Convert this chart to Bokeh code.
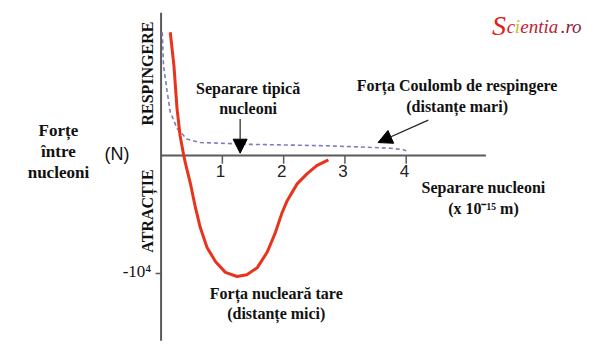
from bokeh.plotting import figure
from bokeh.models import Range1d, Arrow, NormalHead
from bokeh.embed import file_html
from bokeh.resources import INLINE
from bokeh.core.properties import value

# Data (x in 1e-15 m, force in units of 1e4 N)
strong_x = [0.15, 0.21, 0.26, 0.31, 0.37, 0.40, 0.48, 0.56, 0.64, 0.75, 0.89, 1.05, 1.24, 1.40, 1.57, 1.73, 1.86, 1.97, 2.06, 2.22, 2.38, 2.54, 2.73]
strong_y = [1.045, 0.76, 0.40, 0.17, 0.0, -0.07, -0.24, -0.44, -0.61, -0.78, -0.90, -0.99, -1.025, -1.01, -0.95, -0.82, -0.66, -0.49, -0.38, -0.24, -0.155, -0.085, -0.036]

coul_x = [0.02, 0.04, 0.10, 0.15, 0.26, 0.42, 0.64, 0.97, 1.46, 2.0, 2.76, 3.3, 3.74, 3.95, 4.0]
coul_y = [1.045, 0.76, 0.54, 0.37, 0.23, 0.14, 0.11, 0.105, 0.095, 0.09, 0.082, 0.072, 0.062, 0.05, 0.04]

tick_x = [1, 2, 3, 4]
tick_labels = ["1", "2", "3", "4"]
y_tick = [-1]
y_tick_labels = ["-10⁴"]

p = figure(width=600, height=352, output_backend="svg", toolbar_location=None,
           x_range=Range1d(-2.62, 7.17), y_range=Range1d(-1.669, 1.314),
           min_border=0, min_border_left=0, min_border_right=0,
           min_border_top=0, min_border_bottom=0)
p.axis.visible = False
p.grid.visible = False
p.outline_line_color = None
p.background_fill_color = "white"
p.border_fill_color = "white"

axis_col = "#5a5a5a"
# axes
p.line([0, 5.3], [0, 0], line_color=axis_col, line_width=2)
p.line([0, 0], [-1.57, 1.21], line_color=axis_col, line_width=2)
# ticks
p.segment(x0=tick_x, y0=[0]*4, x1=tick_x, y1=[-0.07]*4, line_color=axis_col, line_width=1.5)
p.segment(x0=[-0.09], y0=y_tick, x1=[0], y1=y_tick, line_color=axis_col, line_width=1.5)
p.text(x=[t - 0.03 for t in tick_x], y=[-0.13]*4, text=tick_labels, text_align="center",
       text_baseline="middle", text_font=value("Liberation Sans"), text_font_size="17px",
       text_color="#222222")
p.text(x=[-0.16], y=[v + 0.02 for v in y_tick], text=y_tick_labels, text_align="right",
       text_baseline="middle", text_font=value("Liberation Serif"), text_font_size="17px",
       text_color="#111111")

# curves
p.line(coul_x, coul_y, line_color="#7c7cc4", line_width=1.6, line_dash="4 3")
p.line(strong_x, strong_y, line_color="#e8341c", line_width=3, line_join="round")

# arrows
p.add_layout(Arrow(end=NormalHead(size=14, fill_color="black", line_color="black"),
                   x_start=1.29, y_start=0.31, x_end=1.29, y_end=0.02,
                   line_color="#222222", line_width=1.2))
p.add_layout(Arrow(end=NormalHead(size=14, fill_color="black", line_color="black"),
                   x_start=4.36, y_start=0.30, x_end=3.54, y_end=0.11,
                   line_color="#222222", line_width=1.2))

def lab(x, y, t, size="16px", style="bold", angle=0, align="center", font="Liberation Serif", color="#111111"):
    p.text(x=[x], y=[y], text=[t], text_align=align, text_baseline="middle",
           text_font=value(font), text_font_size=size, text_font_style=style,
           angle=angle, text_color=color)

lab(1.42, 0.568, "Separare tipică")
lab(1.42, 0.398, "nucleoni")
lab(4.83, 0.593, "Forța Coulomb de respingere")
lab(4.83, 0.415, "(distanțe mari)")
lab(5.26, -0.271, "Separare nucleoni")
lab(5.26, -0.449, "(x 10⁻¹⁵ m)")
lab(1.88, -1.169, "Forța nucleară tare")
lab(1.88, -1.339, "(distanțe mici)")
lab(-1.675, 0.212, "Forțe", size="17px")
lab(-1.675, 0.034, "între", size="17px")
lab(-1.675, -0.144, "nucleoni", size="17px")
lab(-0.72, 0.017, "(N)", size="18px", style="normal", font="Liberation Sans")
lab(-0.22, 0.695, "RESPINGERE", angle=1.5708)
lab(-0.22, -0.47, "ATRACȚIE", angle=1.5708)

# logo
lab(5.40, 1.10, "S", size="28px", align="left", color="#e0201a", style="italic")
lab(5.64, 1.09, "c", size="19px", align="left", color="#d02020", style="italic")
lab(5.77, 1.09, "i", size="19px", align="left", color="#c8c020", style="italic")
lab(5.86, 1.09, "entia", size="19px", align="left", color="#c02030", style="italic")
lab(6.52, 1.09, ".ro", size="19px", align="left", color="#8a2040", style="italic")

open("out.html", "w").write(file_html(p, INLINE))
